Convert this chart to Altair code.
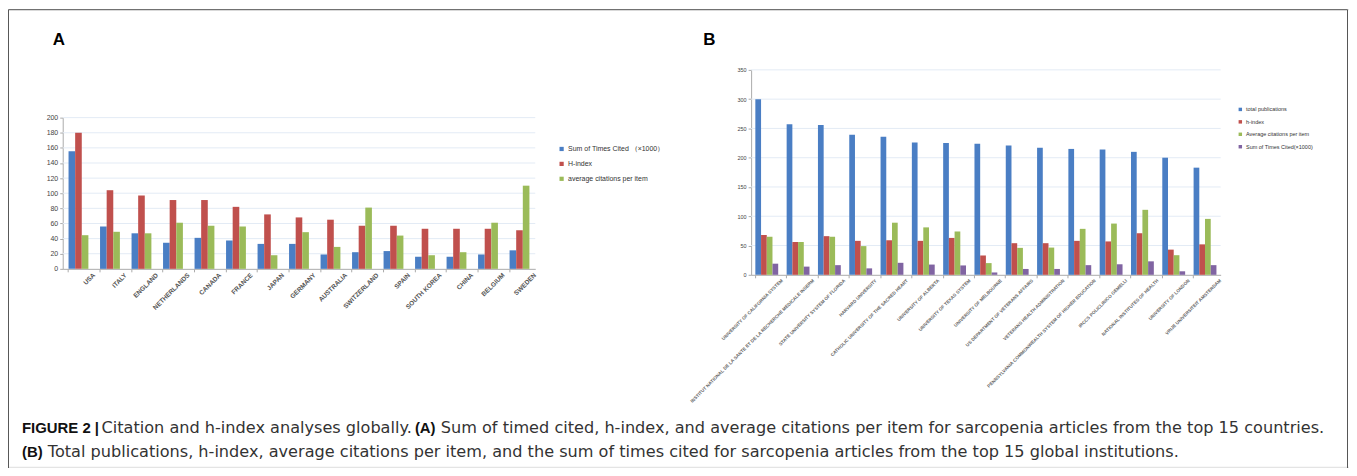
import altair as alt
import pandas as pd

# ---------------- data ----------------
countries = ["USA", "ITALY", "ENGLAND", "NETHERLANDS", "CANADA", "FRANCE", "JAPAN",
             "GERMANY", "AUSTRALIA", "SWITZERLAND", "SPAIN", "SOUTH KOREA", "CHINA",
             "BELGIUM", "SWEDEN"]
a_sum_cited = [155.5, 56, 47, 34.5, 41, 37.5, 33, 33, 19, 22, 23.5, 16, 16, 19, 24.5]
a_h_index = [180, 104, 97, 91, 91, 82, 72, 68, 65, 57, 57, 53, 53, 53, 51]
a_avg_cit = [44.5, 49, 47, 61, 57, 56, 18, 48.5, 29, 81, 44, 18, 22, 61, 110]
a_series = ["Sum of Times Cited （×1000）", "H-index", "average citations per item"]
a_colors = ["#4A7EC4", "#C0504D", "#9BBB59"]
a_ticks = [0, 20, 40, 60, 80, 100, 120, 140, 160, 180, 200]

institutions = [
    "UNIVERSITY OF CALIFORNIA SYSTEM",
    "INSTITUT NATIONAL DE LA SANTE ET DE LA RECHERCHE MEDICALE INSERM",
    "STATE UNIVERSITY SYSTEM OF FLORIDA",
    "HARVARD UNIVERSITY",
    "CATHOLIC UNIVERSITY OF THE SACRED HEART",
    "UNIVERSITY OF ALBERTA",
    "UNIVERSITY OF TEXAS SYSTEM",
    "UNIVERSITY OF MELBOURNE",
    "US DEPARTMENT OF VETERANS AFFAIRS",
    "VETERANS HEALTH ADMINISTRATION",
    "PENNSYLVANIA COMMONWEALTH SYSTEM OF HIGHER EDUCATION",
    "IRCCS POLICLINICO GEMELLI",
    "NATIONAL INSTITUTES OF HEALTH",
    "UNIVERSITY OF LONDON",
    "VRIJE UNIVERSITEIT AMSTERDAM",
]
b_total_pubs = [300, 257, 256, 239, 236, 226, 225, 224, 221, 217, 215, 214, 210, 200, 183]
b_h_index = [68, 56, 66, 58, 59, 58, 63, 33, 54, 54, 58, 57, 71, 43, 52]
b_avg_cit = [65, 56, 65, 49, 89, 81, 74, 20, 46, 46.5, 78.5, 87.5, 111, 33.5, 95.5]
b_sum_cited = [19, 14, 16.5, 11, 20.5, 17.5, 16, 4, 10, 10, 16.5, 18, 23, 6, 16.5]
b_series = ["total publications", "h-index", "Average citations per item",
            "Sum of Times Cited(×1000)"]
b_colors = ["#4A7EC4", "#C0504D", "#9BBB59", "#8064A2"]
b_ticks = [0, 50, 100, 150, 200, 250, 300, 350]

caption_l1_bold1 = "FIGURE 2 |"
caption_l1_reg1 = "Citation and h-index analyses globally."
caption_l1_bold2 = "(A)"
caption_l1_reg2 = ("Sum of timed cited, h-index, and average citations per item for "
                   "sarcopenia articles from the top 15 countries.")
caption_l2_bold = "(B)"
caption_l2_reg = ("Total publications, h-index, average citations per item, and the sum "
                  "of times cited for sarcopenia articles from the top 15 global institutions.")

# ---------------- tables ----------------
rows_a = []
for c, v1, v2, v3 in zip(countries, a_sum_cited, a_h_index, a_avg_cit):
    for s, v in zip(a_series, [v1, v2, v3]):
        rows_a.append({"country": c, "seriesA": s, "valA": v})
dfA = pd.DataFrame(rows_a)

rows_b = []
for c, v1, v2, v3, v4 in zip(institutions, b_total_pubs, b_h_index, b_avg_cit, b_sum_cited):
    for s, v in zip(b_series, [v1, v2, v3, v4]):
        rows_b.append({"inst": c, "seriesB": s, "valB": v})
dfB = pd.DataFrame(rows_b)

W, H = 1348, 460
FONT = "Liberation Sans"
CAP_REG_FONT = "DejaVu Sans"
CAP_BOLD_FONT = "Liberation Sans"

# panel pixel geometry (chart coords)
AX0, AX1, AY0, AY1 = 55, 530, 261, 109
BX0, BX1, BY0, BY1 = 747, 1219, 267, 61

one = pd.DataFrame({"k": [0]})

frame = alt.Chart(one).mark_rect(filled=False, stroke="#555555", strokeWidth=1).encode(
    x=alt.value(0.5), x2=alt.value(W - 1.5), y=alt.value(0.5), y2=alt.value(H + 20)
)

# --- panel A ---
yA = alt.Scale(domain=[0, 200], range=[AY0, AY1], nice=False)
gridA = alt.Chart(pd.DataFrame({"ga": a_ticks[1:]})).mark_rule(
    color="#E3EBF5", strokeWidth=1
).encode(
    y=alt.Y("ga:Q", scale=yA, axis=None),
    x=alt.value(AX0), x2=alt.value(AX1),
)
barsA = alt.Chart(dfA).mark_bar().encode(
    x=alt.X("country:N", sort=countries,
            scale=alt.Scale(domain=countries, range=[AX0, AX1],
                            paddingInner=0.37, paddingOuter=0.185),
            axis=alt.Axis(orient="bottom", offset=AY0 - H, title=None,
                          labelAngle=-45, labelAlign="right", labelBaseline="middle",
                          labelFontSize=6.5, labelFont=FONT, labelFontWeight="bold",
                          labelColor="#555555", labelLimit=0, labelPadding=2,
                          bandPosition=0, labelOffset=15.8,
                          domainColor="#AAAAAA", tickColor="#AAAAAA", tickSize=3)),
    xOffset=alt.XOffset("seriesA:N", sort=a_series),
    y=alt.Y("valA:Q", scale=yA,
            axis=alt.Axis(orient="left", offset=-AX0, title=None, values=a_ticks,
                          format="d", labelFontSize=7, labelFont=FONT,
                          labelColor="#444444", labelPadding=2, grid=False,
                          domainColor="#AAAAAA", tickColor="#AAAAAA", tickSize=3)),
    color=alt.Color("seriesA:N",
                    scale=alt.Scale(domain=a_series, range=a_colors),
                    legend=alt.Legend(orient="none", legendX=553, legendY=137,
                                      title=None, labelFontSize=7, labelFont=FONT,
                                      labelColor="#333333", symbolType="square",
                                      symbolSize=18, symbolStrokeWidth=0,
                                      rowPadding=7, labelOffset=3, labelLimit=0)),
)

# --- panel B ---
yB = alt.Scale(domain=[0, 350], range=[BY0, BY1], nice=False)
gridB = alt.Chart(pd.DataFrame({"gb": b_ticks[1:]})).mark_rule(
    color="#E3EBF5", strokeWidth=1
).encode(
    y=alt.Y("gb:Q", scale=yB, axis=None),
    x=alt.value(BX0), x2=alt.value(BX1),
)
barsB = alt.Chart(dfB).mark_bar().encode(
    x=alt.X("inst:N", sort=institutions,
            scale=alt.Scale(domain=institutions, range=[BX0, BX1],
                            paddingInner=0.27, paddingOuter=0.135),
            axis=alt.Axis(orient="bottom", offset=BY0 - H, title=None,
                          labelAngle=-45, labelAlign="right", labelBaseline="middle",
                          labelFontSize=4.6, labelFont=FONT, labelFontWeight="bold",
                          labelColor="#666666", labelLimit=0, labelPadding=2,
                          bandPosition=0, labelOffset=15.7,
                          domainColor="#AAAAAA", tickColor="#AAAAAA", tickSize=3)),
    xOffset=alt.XOffset("seriesB:N", sort=b_series),
    y=alt.Y("valB:Q", scale=yB,
            axis=alt.Axis(orient="left", offset=-BX0, title=None, values=b_ticks,
                          format="d", labelFontSize=5.5, labelFont=FONT,
                          labelColor="#444444", labelPadding=2, grid=False,
                          domainColor="#AAAAAA", tickColor="#AAAAAA", tickSize=3)),
    color=alt.Color("seriesB:N",
                    scale=alt.Scale(domain=b_series, range=b_colors),
                    legend=alt.Legend(orient="none", legendX=1236, legendY=98,
                                      title=None, labelFontSize=5.5, labelFont=FONT,
                                      labelColor="#333333", symbolType="square",
                                      symbolSize=12, symbolStrokeWidth=0,
                                      rowPadding=5.5, labelOffset=3, labelLimit=0)),
)

# --- panel letters & caption ---
def txt(s, x, y, size, weight="normal", color="#222222", font=FONT):
    return alt.Chart(pd.DataFrame({"t": [s]})).mark_text(
        align="left", baseline="alphabetic", font=font, fontSize=size,
        fontWeight=weight, color=color
    ).encode(text="t:N", x=alt.value(x), y=alt.value(y))

letters = [txt("A", 45, 36, 17, "bold", "#000000"), txt("B", 699, 36, 17, "bold", "#000000")]
CAP = 16.2
CAPB = 15
caption = [
    txt(caption_l1_bold1, 14, 426, CAPB, "bold", "#111111", CAP_BOLD_FONT),
    txt(caption_l1_reg1, 94, 426, CAP, "normal", "#333333", CAP_REG_FONT),
    txt(caption_l1_bold2, 409, 426, CAPB, "bold", "#111111", CAP_BOLD_FONT),
    txt(caption_l1_reg2, 435, 426, CAP, "normal", "#333333", CAP_REG_FONT),
    txt(caption_l2_bold, 14, 450, CAPB, "bold", "#111111", CAP_BOLD_FONT),
    txt(caption_l2_reg, 40, 450, CAP, "normal", "#333333", CAP_REG_FONT),
]

chart = alt.layer(
    frame, gridA, barsA, gridB, barsB, *letters, *caption
).resolve_scale(
    x="independent", y="independent", color="independent", xOffset="independent"
).resolve_axis(
    x="independent", y="independent"
).resolve_legend(color="independent").properties(
    width=W, height=H, padding=0, autosize=alt.AutoSizeParams(type="none")
).configure_view(stroke=None).configure(background="white")

chart.save("out.html", embed_options={"renderer": "svg", "actions": False})
